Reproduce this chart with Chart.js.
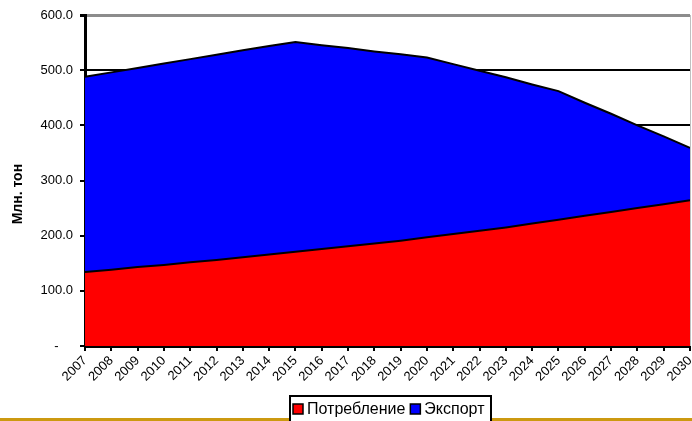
<!DOCTYPE html>
<html>
<head>
<meta charset="utf-8">
<script src="https://cdn.jsdelivr.net/npm/chart.js@4"></script>
<style>
    html, body { margin: 0; padding: 0; background: #fff; }
    #wrap { width: 692px; height: 421px; position: relative; }
</style>
</head>
<body>
<div id="wrap"><canvas id="chart" width="692" height="421"></canvas></div>
<script>
// Data (Млн. тон)
const years = ['2007', '2008', '2009', '2010', '2011', '2012', '2013', '2014', '2015', '2016', '2017', '2018',
    '2019', '2020', '2021', '2022', '2023', '2024', '2025', '2026', '2027', '2028', '2029', '2030'];
const consumption = [134, 138, 143, 147, 152, 156, 161, 166, 171, 176, 181, 186,
    191, 197, 203, 209, 215, 222, 229, 236, 243, 250, 257, 264];
const exportVals = [354, 358, 361, 365, 368, 372, 375, 378, 380, 369, 359, 348,
    338, 326, 308, 290, 272, 252, 233, 205, 178, 150, 123, 95];
const seriesLabels = ['Потребление', 'Экспорт'];
const seriesColors = ['#FF0000', '#0000FF'];
const yTicks = [0, 100, 200, 300, 400, 500, 600];

const FONT = "Arial, 'Liberation Sans', sans-serif";

// Decorations: orange rule, right border and boxed legend
const decorPlugin = {
    id: 'decor',
    afterDraw(chart) {
        const ctx = chart.ctx;
        const area = chart.chartArea;
        ctx.save();
        // right border of plot
        ctx.strokeStyle = '#c0c0c0';
        ctx.lineWidth = 1;
        ctx.beginPath();
        ctx.moveTo(area.right + 0.5, area.top);
        ctx.lineTo(area.right + 0.5, area.bottom);
        ctx.stroke();

        // orange rule at the bottom
        ctx.fillStyle = '#CC9910';
        ctx.fillRect(0, 418, chart.width, 3);

        // legend box
        ctx.fillStyle = '#fff';
        ctx.fillRect(290, 396, 201, 30);
        ctx.strokeStyle = '#000';
        ctx.lineWidth = 2;
        ctx.strokeRect(290, 396, 201, 30);

        ctx.font = '16px ' + FONT;
        ctx.textBaseline = 'middle';
        let x = 293;
        const y = 409;
        chart.data.datasets.forEach((ds, i) => {
            ctx.fillStyle = seriesColors[i];
            ctx.fillRect(x, y - 5, 10, 10);
            ctx.lineWidth = 1.5;
            ctx.strokeStyle = '#000';
            ctx.strokeRect(x, y - 5, 10, 10);
            ctx.fillStyle = '#000';
            ctx.fillText(ds.label, x + 14, y + 1);
            x += 14 + ctx.measureText(ds.label).width + 5;
        });
        ctx.restore();
    }
};

new Chart(document.getElementById('chart'), {
    type: 'line',
    data: {
        labels: years,
        datasets: [
            {
                label: seriesLabels[0],
                data: consumption,
                backgroundColor: seriesColors[0],
                borderColor: '#000',
                borderWidth: 2,
                fill: 'origin',
                pointRadius: 0,
                tension: 0
            },
            {
                label: seriesLabels[1],
                data: exportVals,
                backgroundColor: seriesColors[1],
                borderColor: '#000',
                borderWidth: 2,
                fill: '-1',
                pointRadius: 0,
                tension: 0
            }
        ]
    },
    options: {
        responsive: false,
        animation: false,
        layout: { padding: { top: 15, right: 2, left: 0, bottom: 0 } },
        plugins: {
            legend: { display: false },
            tooltip: { enabled: false }
        },
        scales: {
            x: {
                offset: false,
                grid: {
                    drawOnChartArea: false,
                    drawTicks: true,
                    tickLength: 5,
                    color: '#000',
                    lineWidth: 2
                },
                border: { color: '#000', width: 3 },
                ticks: {
                    color: '#000',
                    font: { family: FONT, size: 13 },
                    minRotation: 45,
                    maxRotation: 45,
                    autoSkip: false,
                    padding: 2
                },
                afterFit(scale) {
                    scale.height = 75;
                    scale.paddingLeft = 0;
                    scale.paddingRight = 0;
                }
            },
            y: {
                stacked: true,
                min: 0,
                max: 600,
                afterBuildTicks(scale) { scale.ticks = yTicks.map(v => ({ value: v })); },
                grid: {
                    color: ctx => ctx.tick && ctx.tick.value === 600 ? '#8c8c8c' : '#000',
                    lineWidth: ctx => ctx.tick && ctx.tick.value === 600 ? 3 : 2,
                    tickColor: '#000',
                    tickLength: 5
                },
                border: { color: '#000', width: 3 },
                ticks: {
                    color: '#000',
                    font: { family: FONT, size: 13 },
                    padding: 7,
                    callback: v => v === 0 ? '-    ' : v.toFixed(1)
                },
                title: {
                    display: true,
                    // trailing spaces nudge the rotated title down a little
                    text: 'Млн. тон       ',
                    color: '#000',
                    font: { family: FONT, size: 14, weight: 'bold' },
                    padding: { top: 10, bottom: 0 }
                },
                afterFit(scale) {
                    scale.width = 85;
                    scale.paddingTop = 0;
                    scale.paddingBottom = 0;
                }
            }
        }
    },
    plugins: [decorPlugin]
});
</script>
</body>
</html>
